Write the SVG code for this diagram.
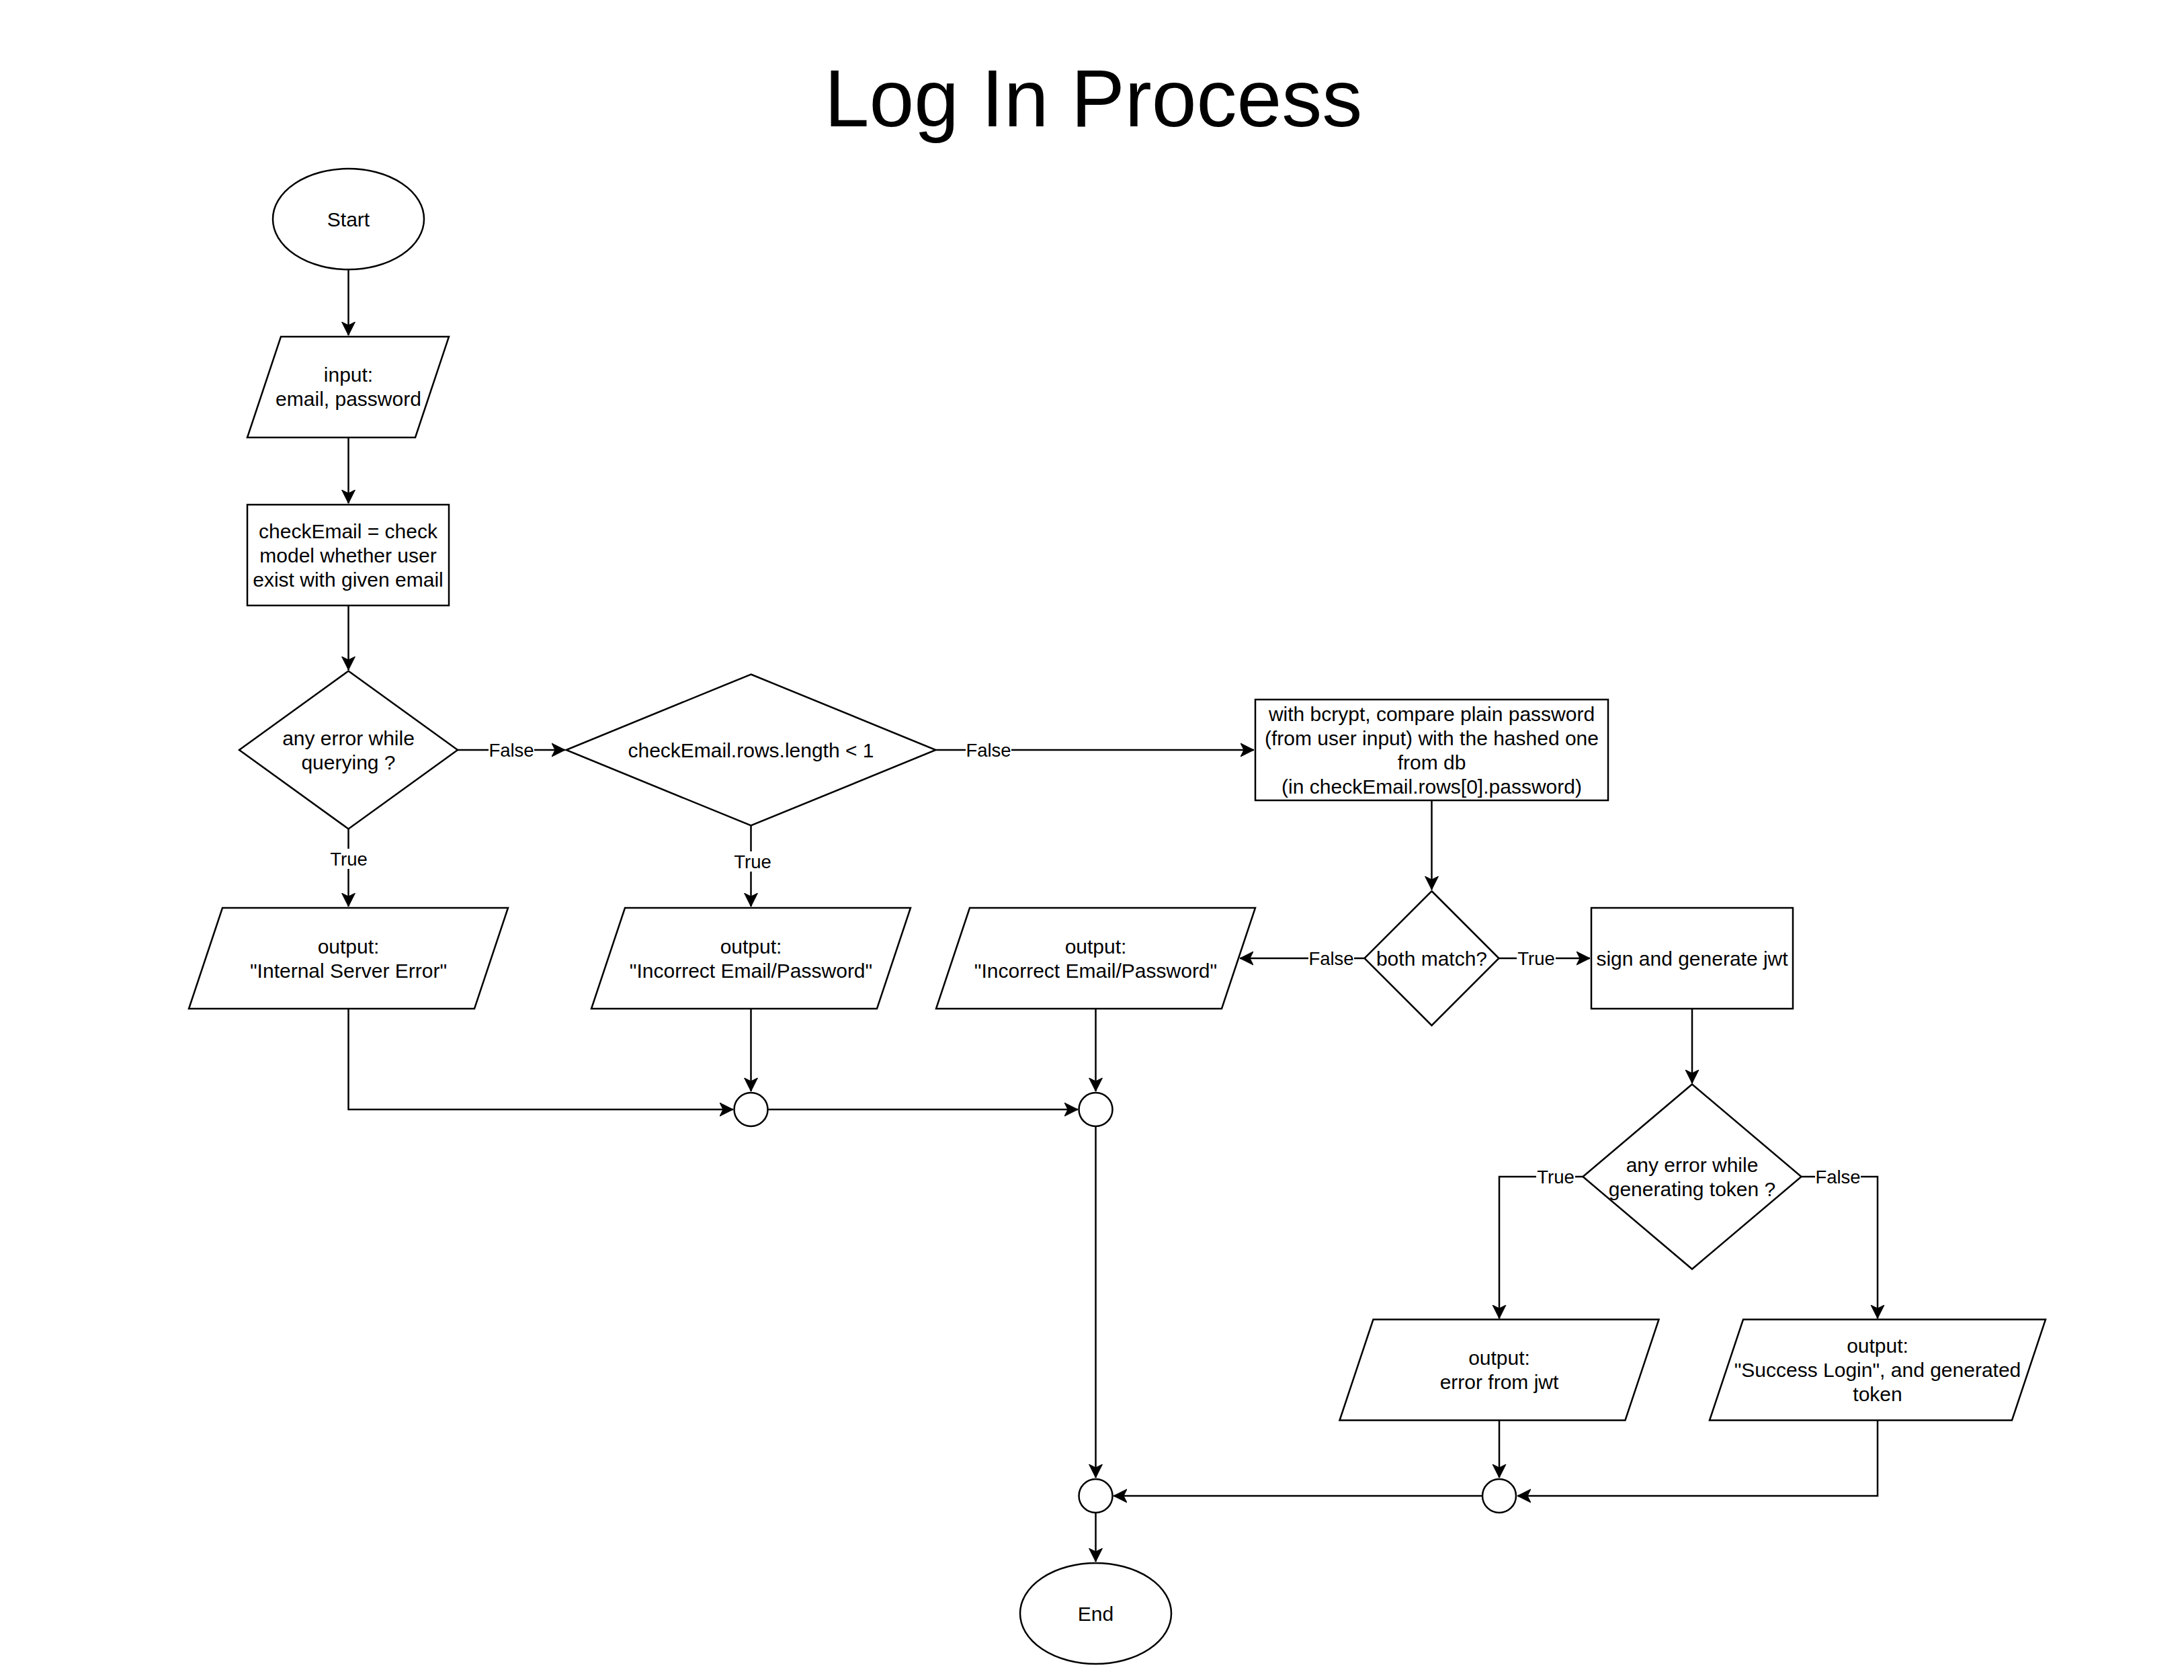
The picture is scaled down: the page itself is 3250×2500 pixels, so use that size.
<svg xmlns="http://www.w3.org/2000/svg" width="3250" height="2500" viewBox="0 0 3250 2500">
<style>
.s{fill:#fff;stroke:#000;stroke-width:2.5}
.t{font-family:"Liberation Sans",Arial,sans-serif;font-size:30px;text-anchor:middle;fill:#000}
.c{fill:none;stroke:#000;stroke-width:2.5}
.lb{fill:#fff}
.l{font-family:"Liberation Sans",Arial,sans-serif;font-size:27.5px;text-anchor:middle;fill:#000}
.title{font-family:"Liberation Sans",Arial,sans-serif;font-size:120px;text-anchor:middle;fill:#000}
</style>
<defs>
<marker id="a" markerUnits="userSpaceOnUse" markerWidth="22" markerHeight="22" refX="20" refY="11" orient="auto">
<path d="M0,1 L20,11 L0,21 L5,11 Z" fill="#000" stroke="#000" stroke-width="1"/>
</marker>
</defs>
<rect width="3250" height="2500" fill="#fff"/>
<text class="title" x="1627" y="188">Log In Process</text>

<g id="connectors">
<path class="c" d="M518.5,401 L518.5,499" marker-end="url(#a)"/>
<path class="c" d="M518.5,651 L518.5,749" marker-end="url(#a)"/>
<path class="c" d="M518.5,901 L518.5,997" marker-end="url(#a)"/>
<path class="c" d="M681,1116 L841,1116" marker-end="url(#a)"/>
<path class="c" d="M518.5,1233.5 L518.5,1349" marker-end="url(#a)"/>
<path class="c" d="M1117.5,1228.5 L1117.5,1349" marker-end="url(#a)"/>
<path class="c" d="M1392.5,1116 L1866,1116" marker-end="url(#a)"/>
<path class="c" d="M2130.5,1191 L2130.5,1324" marker-end="url(#a)"/>
<path class="c" d="M2030.5,1426 L1845,1426" marker-end="url(#a)"/>
<path class="c" d="M2230.5,1426 L2366,1426" marker-end="url(#a)"/>
<path class="c" d="M518.5,1501 L518.5,1651 L1091,1651" marker-end="url(#a)"/>
<path class="c" d="M1117.5,1501 L1117.5,1624" marker-end="url(#a)"/>
<path class="c" d="M1142.5,1651 L1604,1651" marker-end="url(#a)"/>
<path class="c" d="M1630.5,1501 L1630.5,1624" marker-end="url(#a)"/>
<path class="c" d="M1630.5,1676 L1630.5,2199" marker-end="url(#a)"/>
<path class="c" d="M2518,1501 L2518,1612" marker-end="url(#a)"/>
<path class="c" d="M2355.5,1751 L2231,1751 L2231,1962" marker-end="url(#a)"/>
<path class="c" d="M2680.5,1751 L2794,1751 L2794,1962" marker-end="url(#a)"/>
<path class="c" d="M2231,2113.5 L2231,2199" marker-end="url(#a)"/>
<path class="c" d="M2794,2113.5 L2794,2226 L2258,2226" marker-end="url(#a)"/>
<path class="c" d="M2206,2226 L1657,2226" marker-end="url(#a)"/>
<path class="c" d="M1630.5,2251 L1630.5,2324" marker-end="url(#a)"/>
<g id="labels">
<rect class="lb" x="727" y="1101" width="68" height="30"/><text class="l" x="761" y="1126">False</text>
<rect class="lb" x="1437" y="1101" width="68" height="30"/><text class="l" x="1471" y="1126">False</text>
<rect class="lb" x="490" y="1263" width="58" height="30"/><text class="l" x="519" y="1288">True</text>
<rect class="lb" x="1091" y="1267" width="58" height="30"/><text class="l" x="1120" y="1292">True</text>
<rect class="lb" x="1947" y="1411" width="68" height="30"/><text class="l" x="1981" y="1436">False</text>
<rect class="lb" x="2257" y="1411" width="58" height="30"/><text class="l" x="2286" y="1436">True</text>
<rect class="lb" x="2286" y="1736" width="58" height="30"/><text class="l" x="2315" y="1761">True</text>
<rect class="lb" x="2701" y="1736" width="68" height="30"/><text class="l" x="2735" y="1761">False</text>
</g>
</g>

<g id="start">
<ellipse class="s" cx="518.5" cy="326" rx="112.5" ry="75"/>
<text class="t" x="518.5" y="336.5">Start</text>
</g>
<g id="input">
<polygon class="s" points="418,501 668,501 618,651 368,651"/>
<text class="t" x="518.5" y="567.5">input:</text>
<text class="t" x="518.5" y="603.5">email, password</text>
</g>
<g id="checkEmail">
<rect class="s" x="368" y="751" width="300" height="150"/>
<text class="t" x="518" y="800.5">checkEmail = check</text>
<text class="t" x="518" y="836.5">model whether user</text>
<text class="t" x="518" y="872.5">exist with given email</text>
</g>
<g id="queryError">
<polygon class="s" points="518.5,998.5 681,1116 518.5,1233.5 356,1116"/>
<text class="t" x="518.5" y="1108.5">any error while</text>
<text class="t" x="518.5" y="1144.5">querying ?</text>
</g>
<g id="rowsCheck">
<polygon class="s" points="1117.5,1003.5 1392.5,1116 1117.5,1228.5 842.5,1116"/>
<text class="t" x="1117.5" y="1126.5">checkEmail.rows.length &lt; 1</text>
</g>
<g id="bcrypt">
<rect class="s" x="1868" y="1041" width="525" height="150"/>
<text class="t" x="2130.5" y="1072.5">with bcrypt, compare plain password</text>
<text class="t" x="2130.5" y="1108.5">(from user input) with the hashed one</text>
<text class="t" x="2130.5" y="1144.5">from db</text>
<text class="t" x="2130.5" y="1180.5">(in checkEmail.rows[0].password)</text>
</g>
<g id="bothMatch">
<polygon class="s" points="2130.5,1326 2230.5,1426 2130.5,1526 2030.5,1426"/>
<text class="t" x="2130.5" y="1436.5">both match?</text>
</g>
<g id="sign">
<rect class="s" x="2368" y="1351" width="300" height="150"/>
<text class="t" x="2518" y="1436.5">sign and generate jwt</text>
</g>
<g id="out1">
<polygon class="s" points="331,1351 756,1351 706,1501 281,1501"/>
<text class="t" x="518.5" y="1418.5">output:</text>
<text class="t" x="518.5" y="1454.5">"Internal Server Error"</text>
</g>
<g id="out2">
<polygon class="s" points="930,1351 1355,1351 1305,1501 880,1501"/>
<text class="t" x="1117.5" y="1418.5">output:</text>
<text class="t" x="1117.5" y="1454.5">"Incorrect Email/Password"</text>
</g>
<g id="out3">
<polygon class="s" points="1443,1351 1868,1351 1818,1501 1393,1501"/>
<text class="t" x="1630.5" y="1418.5">output:</text>
<text class="t" x="1630.5" y="1454.5">"Incorrect Email/Password"</text>
</g>
<g id="merge1"><circle class="s" cx="1117.5" cy="1651" r="25"/></g>
<g id="merge2"><circle class="s" cx="1630.5" cy="1651" r="25"/></g>
<g id="tokenError">
<polygon class="s" points="2518,1613.5 2680.5,1751 2518,1888.5 2355.5,1751"/>
<text class="t" x="2518" y="1743.5">any error while</text>
<text class="t" x="2518" y="1779.5">generating token ?</text>
</g>
<g id="outErr">
<polygon class="s" points="2043.5,1963.5 2468.5,1963.5 2418.5,2113.5 1993.5,2113.5"/>
<text class="t" x="2231" y="2030.5">output:</text>
<text class="t" x="2231" y="2066.5">error from jwt</text>
</g>
<g id="outSuccess">
<polygon class="s" points="2594,1963.5 3044,1963.5 2994,2113.5 2544,2113.5"/>
<text class="t" x="2794" y="2012.5">output:</text>
<text class="t" x="2794" y="2048.5">"Success Login", and generated</text>
<text class="t" x="2794" y="2084.5">token</text>
</g>
<g id="merge3"><circle class="s" cx="1630.5" cy="2226" r="25"/></g>
<g id="merge4"><circle class="s" cx="2231" cy="2226" r="25"/></g>
<g id="end">
<ellipse class="s" cx="1630.5" cy="2401" rx="112.5" ry="75"/>
<text class="t" x="1630.5" y="2411.5">End</text>
</g>
</svg>
